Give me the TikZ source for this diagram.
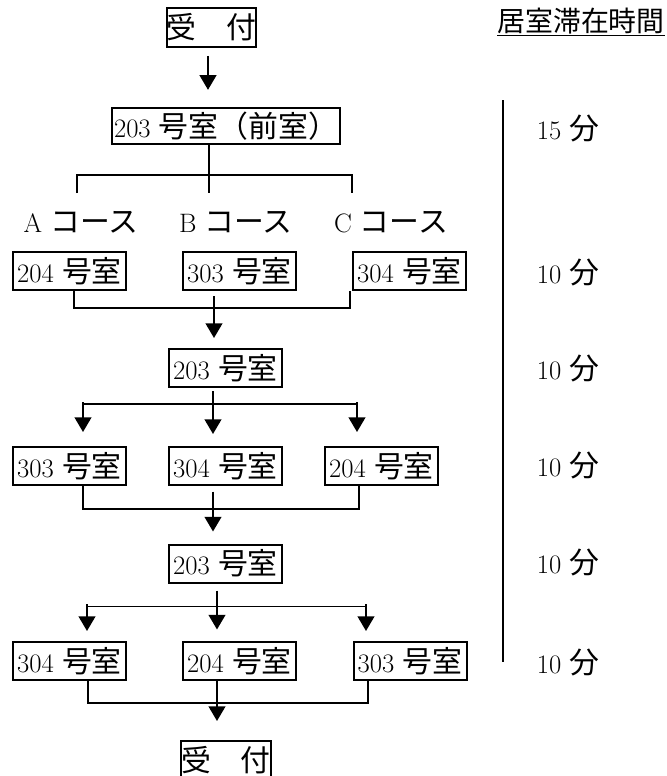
\documentclass[tikz,border=0pt]{standalone}
\usepackage{fontspec}
\newfontfamily\jpfont{Noto Sans CJK JP}[Scale=1.12]
\usepackage{tikz}
\usetikzlibrary{arrows.meta}

\begin{document}
\begin{tikzpicture}[x=0.75pt,y=-0.75pt,
      room/.style={draw, line width=1.5pt, inner sep=0pt, minimum width=84.75pt,
        minimum height=28.5pt, font=\fontsize{20}{24}\selectfont},
      lbl/.style={inner sep=0pt, font=\fontsize{20}{24}\selectfont},
      line/.style={line width=1.2pt},
      arr/.style={line width=1.6pt, -{Triangle[width=12.5pt,length=11pt]}}]
    \useasboundingbox (0,0) rectangle (667,776);
    % flow
    \node[room, minimum width=65pt, minimum height=29pt] (rcpt) at (211.5,27.5) {\jpfont 受　付};
    \node[room, minimum width=171pt, minimum height=27pt] (pre) at (226,126) {203~{\jpfont 号室（前室）}};
    \foreach \n/\c/\x in {ca/A/81,cb/B/236,cc/C/391}
      \node[lbl] (\n) at (\x,222) {\c~{\jpfont コース}};
    \foreach \n/\nr/\x in {r1a/204/69.5,r1b/303/239.5,r1c/304/409.5}
      \node[room] (\n) at (\x,271) {\nr~{\jpfont 号室}};
    \node[room] (r2) at (225.5,368) {203~{\jpfont 号室}};
    \foreach \n/\nr/\x in {r3a/303/69.5,r3b/304/225.5,r3c/204/381.5}
      \node[room] (\n) at (\x,466) {\nr~{\jpfont 号室}};
    \node[room] (r4) at (225.5,563.5) {203~{\jpfont 号室}};
    \foreach \n/\nr/\x in {r5a/304/69.5,r5b/204/239.5,r5c/303/410}
      \node[room] (\n) at (\x,661) {\nr~{\jpfont 号室}};
    \node[room, minimum width=64.5pt, minimum height=29pt] (rcpt2) at (226,760) {\jpfont 受　付};
    % times
    \node[lbl, font=\fontsize{18.7}{22}\selectfont] (head) at (581,22) {\jpfont\underline{居室滞在時間}};
    \node[lbl] (t0) at (568,128) {15~{\jpfont 分}};
    \foreach \n/\y in {t1/272,t2/368,t3/465,t4/562,t5/662}
      \node[lbl] (\n) at (568,\y) {10~{\jpfont 分}};
    \draw[line] (503,100) -- (503,662);
    % connectors
    \draw[arr] (rcpt.south) ++(-3.5,8) -- ++(0,34);
    \draw[line] (pre.south) ++(-17,0) -- ++(0,48);
    \draw[line] (pre.south) ++(-149,48) -- ++(0,-18) -- ++(275,0) -- ++(0,18);
    \draw[line] (r1a.south) ++(4.5,0) -- ++(0,17) -- ++(276,0) -- ++(0,-17);
    \draw[arr] (r2.north) ++(-11.5,-52) -- ++(0,42);
    \draw[arr] (r2.south) ++(-12.5,3) -- ++(0,43);
    \draw[line] (r2.south) ++(-142.5,16) -- ++(274,0);
    \draw[arr] (r3a.north) ++(13.5,-44) -- ++(0,30);
    \draw[arr] (r3c.north) ++(-24.5,-44) -- ++(0,30);
    \draw[line] (r3a.south) ++(13.5,0) -- ++(0,23) -- ++(276,0) -- ++(0,-23);
    \draw[arr] (r4.north) ++(-12.5,-52) -- ++(0,40);
    \draw[arr] (r4.south) ++(-8.5,7) -- ++(0,39);
    \draw[line] (r4.south) ++(-138.5,23) -- ++(279,0);
    \draw[arr] (r5a.north) ++(17.5,-37) -- ++(0,27);
    \draw[arr] (r5c.north) ++(-44,-37) -- ++(0,27);
    \draw[line] (r5a.south) ++(18.5,0) -- ++(0,22) -- ++(280,0) -- ++(0,-22);
    \draw[arr] (r5b.south) ++(-22.5,0) -- ++(0,40);
  \end{tikzpicture}
\end{document}
